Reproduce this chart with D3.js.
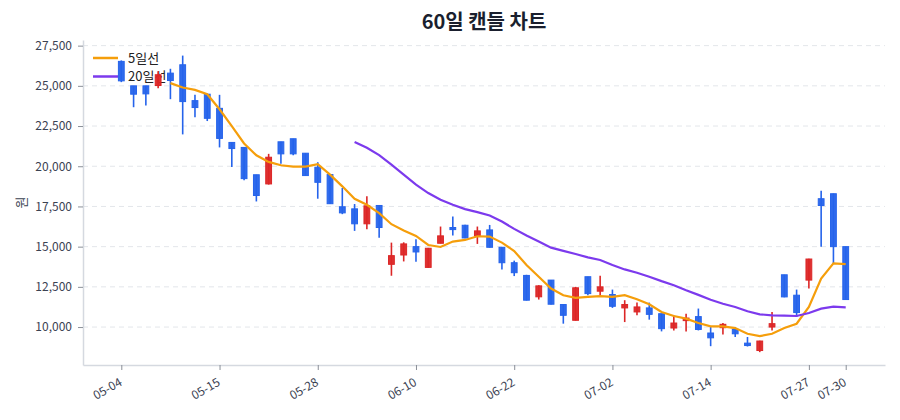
<!DOCTYPE html>
<meta charset="utf-8">
<script src="https://d3js.org/d3.v7.min.js"></script>
<style>
  body { margin: 0; background: #fff; }
  svg text { font-family: "Noto Sans CJK KR", "Noto Sans", sans-serif; }
</style>
<div id="my_dataviz"></div>
<script>
  // trading days (category axis)
  var dates = ["05-04", "05-06", "05-07", "05-08", "05-11", "05-12", "05-13", "05-14", "05-15", "05-18",
    "05-19", "05-20", "05-21", "05-22", "05-25", "05-26", "05-28", "05-29", "06-01", "06-02",
    "06-03", "06-04", "06-05", "06-08", "06-10", "06-11", "06-12", "06-15", "06-16", "06-17",
    "06-18", "06-19", "06-22", "06-23", "06-24", "06-25", "06-26", "06-29", "06-30", "07-01",
    "07-02", "07-03", "07-06", "07-07", "07-08", "07-09", "07-10", "07-13", "07-14", "07-15",
    "07-16", "07-17", "07-20", "07-21", "07-22", "07-23", "07-27", "07-28", "07-29", "07-30"];

  var open = [26520, 25000, 25000, 25020, 25790, 26310, 24080, 24480, 23600, 21480,
    21170, 19470, 18900, 21520, 21710, 20810, 19940, 19480, 17480, 17350,
    16420, 17560, 13900, 14480, 15000, 13710, 15210, 16190, 16330, 15690,
    16040, 14960, 14000, 13210, 11880, 12920, 11400, 10420, 13130, 12230,
    12020, 11190, 10940, 11190, 10830, 9940, 10400, 10650, 9630, 9960,
    9850, 9000, 8540, 10000, 13250, 11980, 12920, 17980, 18290, 15000];
  var high = [26580, 25000, 25000, 25900, 26060, 26880, 24440, 24480, 24440, 21480,
    21170, 19470, 20770, 21520, 21710, 20810, 20250, 19480, 18650, 17650,
    18130, 17560, 15250, 15270, 15460, 14920, 16250, 16880, 16360, 16250,
    16350, 14960, 14130, 13250, 12600, 12920, 11400, 12500, 13130, 13190,
    12330, 11670, 11520, 11520, 10830, 10730, 10830, 11150, 10000, 10250,
    10000, 9380, 9150, 10940, 13250, 12330, 14250, 18480, 18300, 15000];
  var low = [25230, 23670, 23770, 24850, 24170, 21980, 23040, 22810, 21170, 19960,
    19130, 17810, 18860, 20150, 20690, 19400, 17980, 17650, 17020, 15980,
    16080, 15560, 13190, 14080, 14060, 13690, 15200, 15690, 15520, 15170,
    14940, 13580, 13170, 11650, 11710, 11400, 10210, 10400, 11980, 11940,
    11190, 10310, 10730, 10460, 9730, 9790, 9730, 9790, 8810, 9540,
    9380, 8790, 8440, 9790, 11850, 10630, 12400, 15000, 13960, 11700];
  var close = [25310, 24480, 24500, 25690, 25330, 24020, 23650, 22980, 21730, 21100,
    19230, 18180, 20560, 20770, 20770, 19420, 19000, 17670, 17100, 16420,
    17540, 16190, 14440, 15170, 14670, 14900, 15670, 16060, 15540, 15980,
    14960, 14000, 13380, 11670, 12560, 11420, 10730, 12440, 12080, 12500,
    11290, 11400, 11250, 10790, 9900, 10250, 10560, 9850, 9330, 10170,
    9580, 8850, 9130, 10210, 11875, 10900, 14230, 17560, 15000, 11710];

  // moving averages as drawn
  var ma5 = [null, null, null, null, 25167, 24896, 24750, 24479, 23542, 22500,
    21417, 20680, 20271, 20063, 19979, 19979, 20125, 19479, 18750, 17979,
    17604, 17083, 16396, 16000, 15667, 15104, 14979, 15313, 15417, 15646,
    15625, 15250, 14729, 13854, 13125, 12396, 11980, 11813, 11875, 11917,
    11875, 11979, 11729, 11417, 10938, 10688, 10521, 10250, 10042, 10042,
    9938, 9583, 9438, 9583, 9938, 10208, 11250, 13021, 13958, 13917];
  var ma20 = [null, null, null, null, null, null, null, null, null, null,
    null, null, null, null, null, null, null, null, null, 21500,
    21146, 20688, 20104, 19479, 18854, 18333, 17917, 17604, 17333, 17146,
    16938, 16563, 16104, 15688, 15313, 14938, 14740, 14542, 14333, 14167,
    13854, 13583, 13375, 13125, 12854, 12604, 12292, 12000, 11700, 11450,
    11250, 10979, 10792, 10729, 10708, 10688, 10875, 11146, 11271, 11229];

  var yTicks = [10000, 12500, 15000, 17500, 20000, 22500, 25000, 27500];
  var xTickLabels = ["05-04", "05-15", "05-28", "06-10", "06-22", "07-02", "07-14", "07-27", "07-30"];

  var upColor = "#dc2626", downColor = "#2563eb";
  var ma5Color = "#f59e0b", ma20Color = "#7c3aed";

  var W = 900, H = 420;
  var margin = { top: 40, right: 15, bottom: 55, left: 83 };
  var svg = d3.select("#my_dataviz").append("svg").attr("width", W).attr("height", H);

  var x = d3.scaleLinear().domain([-3.12, 62.2]).range([margin.left, W - margin.right]);
  var y = d3.scaleLinear().domain([7640, 27850]).range([H - margin.bottom, margin.top]);

  // title
  svg.append("text").attr("x", (margin.left + W - margin.right) / 2).attr("y", 29)
    .attr("text-anchor", "middle").style("font-size", "20px").style("font-weight", "bold")
    .attr("fill", "#1a1f2e").text("60일 캔들 차트");

  // grid
  svg.append("g").selectAll("line").data(yTicks).enter().append("line")
    .attr("x1", margin.left).attr("x2", W - margin.right)
    .attr("y1", function(d) { return y(d); }).attr("y2", function(d) { return y(d); })
    .attr("stroke", "#e3e6ea").attr("stroke-dasharray", "5,4");

  // y axis
  var yAxis = svg.append("g").attr("transform", "translate(" + margin.left + ",0)")
    .call(d3.axisLeft(y).tickValues(yTicks).tickFormat(d3.format(",")).tickSize(5).tickSizeOuter(0).tickPadding(6));
  yAxis.select(".domain").attr("stroke", "#d5d9e0").attr("stroke-width", 1.5);
  yAxis.selectAll(".tick line").attr("stroke", "#8a8f98");
  yAxis.selectAll("text").style("font-size", "12px").attr("fill", "#3b4252");

  // x axis
  var tickIdx = xTickLabels.map(function(t) { return dates.indexOf(t); });
  var xAxis = svg.append("g").attr("transform", "translate(0," + (H - margin.bottom) + ")")
    .call(d3.axisBottom(x).tickValues(tickIdx).tickFormat(function(i) { return dates[i]; }).tickSize(5).tickSizeOuter(0));
  xAxis.select(".domain").attr("stroke", "#d5d9e0").attr("stroke-width", 1.5);
  xAxis.selectAll(".tick line").attr("stroke", "#8a8f98");
  xAxis.selectAll("text").style("font-size", "12px").attr("fill", "#3b4252")
    .attr("x", 0).attr("y", 0).attr("dy", "0.35em")
    .attr("text-anchor", "end").attr("transform", "translate(-1,16) rotate(-30)");

  // y label
  svg.append("text").attr("transform", "translate(21," + (margin.top + H - margin.bottom) / 2 + ") rotate(-90)")
    .attr("text-anchor", "middle").attr("dy", "0.35em").style("font-size", "13px").attr("fill", "#3b4252").text("원");

  // legend
  var legend = svg.append("g");
  [["5일선", ma5Color], ["20일선", ma20Color]].forEach(function(d, k) {
    var ly = 58 + k * 18.5;
    legend.append("line").attr("x1", 93).attr("x2", 118).attr("y1", ly).attr("y2", ly)
      .attr("stroke", d[1]).attr("stroke-width", 2.5);
    legend.append("text").attr("x", 128).attr("y", ly).attr("dy", "0.35em")
      .style("font-size", "13px").attr("fill", "#222").text(d[0]);
  });

  // candles
  var idx = d3.range(dates.length);
  var candle = svg.append("g").selectAll("g").data(idx).enter().append("g");
  function col(i) { return close[i] >= open[i] ? upColor : downColor; }
  candle.append("line")
    .attr("x1", function(i) { return x(i); }).attr("x2", function(i) { return x(i); })
    .attr("y1", function(i) { return y(high[i]); }).attr("y2", function(i) { return y(low[i]); })
    .attr("stroke", col).attr("stroke-width", 1.6);
  candle.append("rect")
    .attr("x", function(i) { return x(i) - 2.9; }).attr("width", 5.8)
    .attr("y", function(i) { return y(Math.max(open[i], close[i])); })
    .attr("height", function(i) { return Math.max(1, Math.abs(y(open[i]) - y(close[i]))); })
    .attr("fill", col).attr("stroke", col).attr("stroke-width", 1).attr("fill-opacity", 0.95);

  // moving average lines
  function maLine(arr) {
    return d3.line().defined(function(i) { return arr[i] != null; })
      .x(function(i) { return x(i); }).y(function(i) { return y(arr[i]); })(idx);
  }
  svg.append("path").attr("d", maLine(ma5)).attr("fill", "none").attr("stroke", ma5Color).attr("stroke-width", 2.2);
  svg.append("path").attr("d", maLine(ma20)).attr("fill", "none").attr("stroke", ma20Color).attr("stroke-width", 2.2);
</script>
